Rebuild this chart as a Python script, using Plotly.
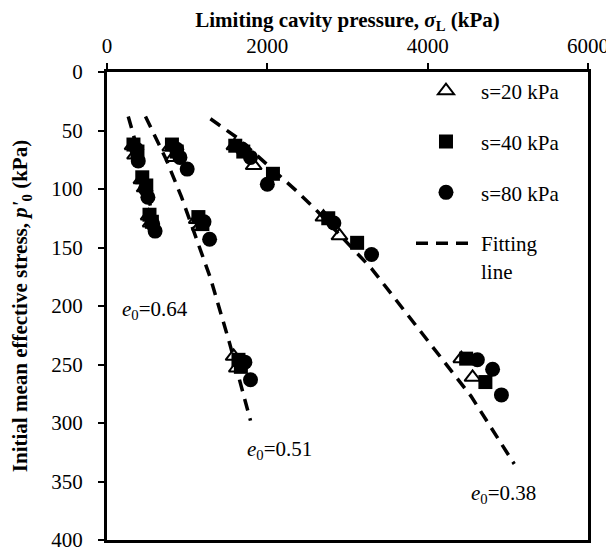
import plotly.graph_objects as go

# s = 20 kPa (open triangles)
s20_sigma = [320, 350, 430, 470, 520, 545, 790, 830, 1120, 1160, 1580, 1620, 1590, 1830, 2700, 2900, 4420, 4560]
s20_p0 = [63, 71, 92, 99, 123, 129, 64, 73, 126, 132, 243, 253, 63, 80, 124, 140, 245, 261]

# s = 40 kPa (filled squares)
s40_sigma = [330, 380, 440, 490, 530, 560, 810, 870, 1140, 1190, 1640, 1670, 1600, 1700, 2070, 2760, 3120, 4480, 4720]
s40_p0 = [62, 68, 90, 97, 122, 128, 62, 68, 124, 130, 246, 252, 63, 68, 87, 125, 146, 245, 265]

# s = 80 kPa (filled circles)
s80_sigma = [370, 390, 480, 510, 570, 600, 870, 910, 1000, 1210, 1280, 1720, 1790, 1690, 1790, 2000, 2830, 3300, 4620, 4810, 4920]
s80_p0 = [66, 76, 100, 107, 130, 136, 66, 73, 83, 128, 143, 248, 263, 66, 73, 96, 129, 156, 246, 254, 276]

# fitting lines
fit_e064_sigma = [265, 360, 450, 540, 590]
fit_e064_p0 = [38, 61, 86, 114, 130]
fit_e051_sigma = [480, 740, 930, 1160, 1290, 1530, 1790]
fit_e051_p0 = [38, 75, 107, 150, 176, 232, 298]
fit_e038_sigma = [1290, 1620, 2370, 2610, 3300, 4130, 4540, 5080]
fit_e038_p0 = [40, 56, 102, 118, 168, 241, 277, 335]

# labels
label_texts = ["<i>e</i><sub>0</sub>=0.64", "<i>e</i><sub>0</sub>=0.51", "<i>e</i><sub>0</sub>=0.38"]
label_sigma = [600, 2150, 4950]
label_p0 = [203, 323, 361]

x_ticks = [0, 2000, 4000, 6000]
y_ticks = [0, 50, 100, 150, 200, 250, 300, 350, 400]

FONT = "Liberation Serif, Times New Roman, serif"

fig = go.Figure()

fit_x = fit_e064_sigma + [None] + fit_e051_sigma + [None] + fit_e038_sigma
fit_y = fit_e064_p0 + [None] + fit_e051_p0 + [None] + fit_e038_p0
fig.add_trace(go.Scatter(
    x=fit_x, y=fit_y, mode="lines", name="Fitting<br>line",
    line=dict(color="black", width=3.5, dash="12px,8px"),
    legendgroup="fit", legendrank=4, connectgaps=False,
))
fig.add_trace(go.Scatter(
    x=s20_sigma, y=s20_p0, mode="markers", name="s=20 kPa",
    marker=dict(symbol="triangle-up-open", size=14, color="black", line=dict(width=2, color="black")),
    legendgroup="s20", legendrank=1,
))
fig.add_trace(go.Scatter(
    x=s40_sigma, y=s40_p0, mode="markers", name="s=40 kPa",
    marker=dict(symbol="square", size=14, color="black"),
    legendgroup="s40", legendrank=2,
))
fig.add_trace(go.Scatter(
    x=s80_sigma, y=s80_p0, mode="markers", name="s=80 kPa",
    marker=dict(symbol="circle", size=15, color="black"),
    legendgroup="s80", legendrank=3,
))

for t, xs, ys in zip(label_texts, label_sigma, label_p0):
    fig.add_annotation(x=xs, y=ys, text=t, showarrow=False,
                       font=dict(family=FONT, size=21, color="black"))

# page body has an 8px margin, so the figure is sized to the visible area
fig.update_layout(
    width=606, height=545,
    margin=dict(l=99, r=26, t=64, b=13, autoexpand=False),
    paper_bgcolor="white", plot_bgcolor="white",
    font=dict(family=FONT, size=21, color="black"),
    showlegend=True,
    legend=dict(
        x=0.632, y=1.003, xanchor="left", yanchor="top",
        bgcolor="rgba(0,0,0,0)", borderwidth=0,
        font=dict(family=FONT, size=21, color="black"),
        itemwidth=60, tracegroupgap=20.5, valign="top",
    ),
    xaxis=dict(
        side="top", range=[0, 6000], tickvals=x_ticks, automargin=False,
        showgrid=False, zeroline=False,
        showline=True, linecolor="black", linewidth=3, mirror=True,
        ticks="outside", ticklen=6, tickwidth=1.5, tickcolor="black",
        ticklabelstandoff=2,
        title=dict(text="<b>Limiting cavity pressure, <i>σ</i><sub>L</sub> (kPa)</b>",
                   font=dict(family=FONT, size=21), standoff=16),
    ),
    yaxis=dict(
        range=[400, 0], tickvals=y_ticks, automargin=False,
        showgrid=False, zeroline=False,
        showline=True, linecolor="black", linewidth=3, mirror=True,
        ticks="outside", ticklen=6, tickwidth=1.5, tickcolor="black",
        ticklabelstandoff=11,
        title=dict(text="<b>Initial mean effective stress, <i>p'</i><sub>0</sub> (kPa)</b>",
                   font=dict(family=FONT, size=21), standoff=18),
    ),
)

fig.write_html("out.html")
